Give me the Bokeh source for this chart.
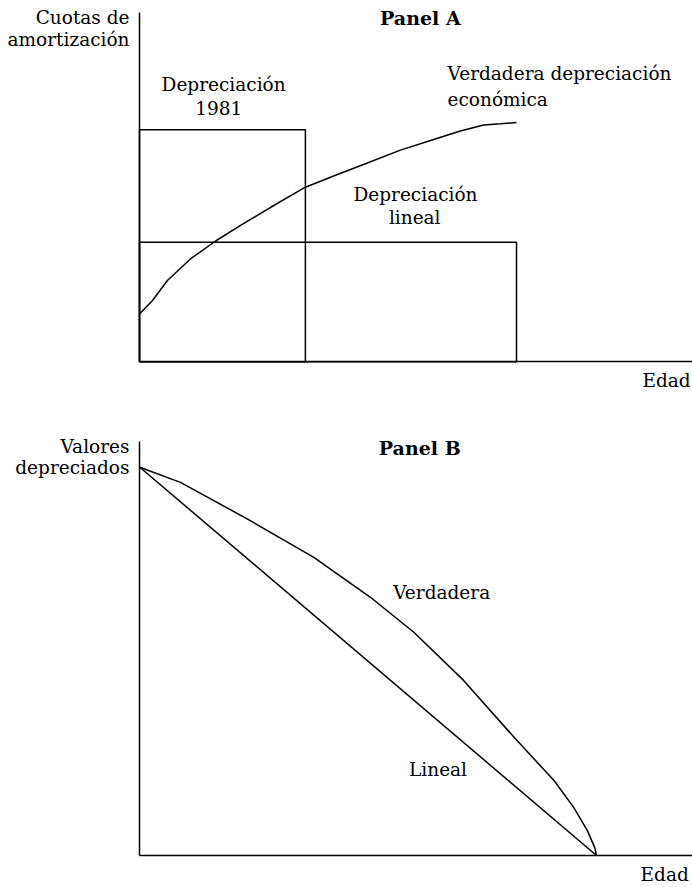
from bokeh.plotting import figure
from bokeh.layouts import column
from bokeh.models import Label, Range1d, ColumnDataSource
from bokeh.embed import file_html
from bokeh.resources import INLINE

# ---------------- Data ----------------
# Panel A: depreciation allowances by age
life_1981 = 4.4          # 1981 accelerated recovery period (relative units)
rate_1981 = 1.94         # annual allowance under 1981 rules
life_linear = 10.0       # straight-line useful life
rate_linear = 1.0        # straight-line annual allowance

true_dep_age = [0, 0.34, 0.74, 1.35, 2.02, 2.68, 3.47, 4.40, 5.20, 5.94,
                6.92, 7.72, 8.51, 9.13, 9.58, 10.0]
true_dep_rate = [0.40, 0.51, 0.68, 0.86, 1.01, 1.14, 1.29, 1.46, 1.56, 1.65,
                 1.77, 1.85, 1.93, 1.98, 1.99, 2.00]

# Panel B: depreciated values by age
true_val_age = [0, 0.89, 2.35, 3.81, 5.05, 6.0, 7.09, 8.19, 9.07, 9.50,
                9.80, 9.96, 10.0]
true_val = [1.0, 0.961, 0.867, 0.768, 0.665, 0.575, 0.451, 0.305, 0.193,
            0.124, 0.064, 0.021, 0.0]
lin_val_age = [0, 10.0]
lin_val = [1.0, 0.0]

FONT = "DejaVu Serif"
FS = "18.5px"
FS_B = "19px"
LW = 1.5


def base_fig(height, xr, yr, xb, yb):
    p = figure(width=692, height=height, output_backend="svg",
               toolbar_location=None, x_range=Range1d(*xr), y_range=Range1d(*yr),
               min_border=0, min_border_left=0, min_border_right=0,
               min_border_top=0, min_border_bottom=0)
    p.outline_line_color = None
    p.grid.visible = False
    for ax, b in ((p.xaxis, xb), (p.yaxis, yb)):
        ax.fixed_location = 0
        ax.bounds = b
        ax.ticker = []
        ax.axis_line_color = "black"
        ax.axis_line_width = LW
        ax.major_tick_line_color = None
        ax.minor_tick_line_color = None
    p.background_fill_color = "white"
    p.border_fill_color = "white"
    return p


def lab(p, x, y, text, align="left", bold=False):
    p.add_layout(Label(x=x, y=y, text=text, text_font=FONT,
                       text_font_size=FS_B if bold else FS,
                       text_align=align, text_baseline="alphabetic",
                       y_offset=7.5,
                       text_color="black",
                       text_font_style="bold" if bold else "normal"))


# ---------------- Panel A ----------------
pa = base_fig(404, (-3.687, 14.668), (-0.357, 3.021), (0, 14.668), (0, 2.921))
rects = ColumnDataSource(dict(left=[0, 0], right=[life_1981, life_linear],
                              bottom=[0, 0], top=[rate_1981, rate_linear]))
pa.quad(left="left", right="right", bottom="bottom", top="top", source=rects,
        fill_color=None, line_color="black", line_width=LW)
pa.line(true_dep_age, true_dep_rate, line_color="black", line_width=LW)

lab(pa, -0.265, 2.82, "Cuotas de", "right")
lab(pa, -0.265, 2.63, "amortización", "right")
lab(pa, 7.45, 2.81, "Panel A", "center", bold=True)
lab(pa, 2.23, 2.26, "Depreciación", "center")
lab(pa, 2.10, 2.06, "1981", "center")
lab(pa, 8.17, 2.35, "Verdadera depreciación")
lab(pa, 8.17, 2.13, "económica")
lab(pa, 7.32, 1.34, "Depreciación", "center")
lab(pa, 7.30, 1.14, "lineal", "center")
lab(pa, 14.62, -0.223, "Edad", "right")

# ---------------- Panel B ----------------
pb = base_fig(483, (-3.050, 12.102), (-0.0824, 1.1615), (0, 12.102), (0, 1.066))
pb.line(true_val_age, true_val, line_color="black", line_width=LW)
pb.line(lin_val_age, lin_val, line_color="black", line_width=LW)

lab(pb, -0.226, 1.033, "Valores", "right")
lab(pb, -0.226, 0.979, "depreciados", "right")
lab(pb, 6.13, 1.030, "Panel B", "center", bold=True)
lab(pb, 6.61, 0.657, "Verdadera", "center")
lab(pb, 6.53, 0.201, "Lineal", "center")
lab(pb, 12.02, -0.0695, "Edad", "right")

layout = column(pa, pb, spacing=0)
open("out.html", "w").write(file_html(layout, INLINE))
